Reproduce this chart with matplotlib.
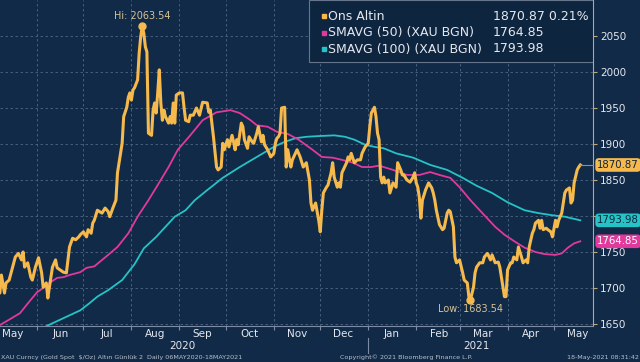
import matplotlib
matplotlib.use('Agg')
import matplotlib.pyplot as plt
import matplotlib.dates as mdates
import matplotlib.transforms as mtrans
from matplotlib.patches import Rectangle
from matplotlib.ticker import NullFormatter
import pandas as pd

BG    = '#112a48'
GRID  = '#4f6584'
GOLD  = '#f6b94c'
PINK  = '#e2399c'
CYAN  = '#25c3c6'
TXT   = '#e4e8ee'
TAN   = '#d8c394'

# gold spot
price_dates = [
    "2020-05-06", "2020-05-08", "2020-05-09", "2020-05-11", "2020-05-12", "2020-05-14", "2020-05-18",
    "2020-05-20", "2020-05-22", "2020-05-23", "2020-05-24", "2020-05-26", "2020-05-28", "2020-05-29",
    "2020-05-31", "2020-06-02", "2020-06-04", "2020-06-05", "2020-06-07", "2020-06-08", "2020-06-09",
    "2020-06-11", "2020-06-13", "2020-06-14", "2020-06-16", "2020-06-18", "2020-06-20", "2020-06-22",
    "2020-06-24", "2020-06-26", "2020-06-28", "2020-06-29", "2020-07-01", "2020-07-03", "2020-07-04",
    "2020-07-06", "2020-07-07", "2020-07-08", "2020-07-10", "2020-07-13", "2020-07-15", "2020-07-17",
    "2020-07-18", "2020-07-20", "2020-07-22", "2020-07-23", "2020-07-25", "2020-07-26", "2020-07-27",
    "2020-07-29", "2020-07-30", "2020-07-31", "2020-08-01", "2020-08-02", "2020-08-03", "2020-08-05",
    "2020-08-06", "2020-08-07", "2020-08-08", "2020-08-09", "2020-08-10", "2020-08-11", "2020-08-12",
    "2020-08-14", "2020-08-15", "2020-08-16", "2020-08-17", "2020-08-18", "2020-08-19", "2020-08-20",
    "2020-08-21", "2020-08-22", "2020-08-23", "2020-08-25", "2020-08-26", "2020-08-27", "2020-08-28",
    "2020-08-29", "2020-08-30", "2020-09-01", "2020-09-03", "2020-09-04", "2020-09-05", "2020-09-07",
    "2020-09-08", "2020-09-10", "2020-09-12", "2020-09-14", "2020-09-16", "2020-09-19", "2020-09-20",
    "2020-09-21", "2020-09-23", "2020-09-25", "2020-09-26", "2020-09-28", "2020-09-29", "2020-09-30",
    "2020-10-02", "2020-10-03", "2020-10-05", "2020-10-06", "2020-10-07", "2020-10-08", "2020-10-09",
    "2020-10-11", "2020-10-12", "2020-10-13", "2020-10-15", "2020-10-16", "2020-10-18", "2020-10-19",
    "2020-10-21", "2020-10-22", "2020-10-24", "2020-10-25", "2020-10-26", "2020-10-28", "2020-10-30",
    "2020-11-01", "2020-11-02", "2020-11-03", "2020-11-04", "2020-11-05", "2020-11-06", "2020-11-08",
    "2020-11-09", "2020-11-10", "2020-11-12", "2020-11-13", "2020-11-16", "2020-11-18", "2020-11-20",
    "2020-11-22", "2020-11-24", "2020-11-25", "2020-11-26", "2020-11-28", "2020-11-30", "2020-12-01",
    "2020-12-02", "2020-12-03", "2020-12-05", "2020-12-06", "2020-12-08", "2020-12-09", "2020-12-10",
    "2020-12-12", "2020-12-13", "2020-12-14", "2020-12-15", "2020-12-18", "2020-12-19", "2020-12-20",
    "2020-12-21", "2020-12-23", "2020-12-25", "2020-12-27", "2020-12-28", "2020-12-30", "2021-01-01",
    "2021-01-02", "2021-01-03", "2021-01-05", "2021-01-06", "2021-01-07", "2021-01-08", "2021-01-09",
    "2021-01-10", "2021-01-11", "2021-01-12", "2021-01-14", "2021-01-15", "2021-01-17", "2021-01-19",
    "2021-01-20", "2021-01-22", "2021-01-23", "2021-01-24", "2021-01-26", "2021-01-28", "2021-01-30",
    "2021-01-31", "2021-02-01", "2021-02-02", "2021-02-03", "2021-02-04", "2021-02-05", "2021-02-07",
    "2021-02-09", "2021-02-11", "2021-02-12", "2021-02-13", "2021-02-14", "2021-02-16", "2021-02-18",
    "2021-02-19", "2021-02-21", "2021-02-22", "2021-02-23", "2021-02-25", "2021-02-26", "2021-02-27",
    "2021-03-01", "2021-03-03", "2021-03-04", "2021-03-06", "2021-03-07", "2021-03-08", "2021-03-10",
    "2021-03-11", "2021-03-12", "2021-03-14", "2021-03-16", "2021-03-17", "2021-03-19", "2021-03-21",
    "2021-03-22", "2021-03-24", "2021-03-26", "2021-03-27", "2021-03-28", "2021-03-30", "2021-03-31",
    "2021-04-01", "2021-04-03", "2021-04-04", "2021-04-05", "2021-04-07", "2021-04-08", "2021-04-10",
    "2021-04-11", "2021-04-13", "2021-04-14", "2021-04-15", "2021-04-17", "2021-04-18", "2021-04-19",
    "2021-04-21", "2021-04-22", "2021-04-23", "2021-04-24", "2021-04-26", "2021-04-27", "2021-04-29",
    "2021-04-30", "2021-05-02", "2021-05-03", "2021-05-04", "2021-05-06", "2021-05-07", "2021-05-08",
    "2021-05-09", "2021-05-11", "2021-05-12", "2021-05-13", "2021-05-14", "2021-05-16", "2021-05-17",
    "2021-05-18",
]
price = [
    1700, 1693, 1718, 1693, 1707, 1711, 1743,
    1748, 1739, 1750, 1729, 1735, 1715, 1711,
    1729, 1742, 1721, 1701, 1707, 1686, 1701,
    1729, 1739, 1728, 1725, 1722, 1721, 1757,
    1769, 1767, 1771, 1774, 1778, 1771, 1781,
    1776, 1790, 1794, 1808, 1804, 1811, 1806,
    1799, 1811, 1822, 1860, 1887, 1901, 1938,
    1951, 1965, 1971, 1961, 1975, 1978, 1989,
    2026, 2049, 2063.54, 2054, 2035, 2028, 1915,
    1912, 1947, 1957, 1943, 1971, 2003, 1957,
    1933, 1947, 1938, 1929, 1938, 1929, 1957,
    1929, 1968, 1971, 1971, 1951, 1933, 1931,
    1940, 1940, 1950, 1940, 1958, 1957, 1944,
    1947, 1910, 1868, 1864, 1868, 1901, 1892,
    1906, 1896, 1912, 1903, 1892, 1906, 1899,
    1929, 1924, 1906, 1894, 1910, 1903, 1901,
    1915, 1924, 1903, 1912, 1899, 1892, 1882,
    1887, 1901, 1908, 1910, 1915, 1950, 1951,
    1868, 1892, 1868, 1878, 1892, 1882, 1868,
    1874, 1850, 1818, 1808, 1818, 1794, 1778,
    1808, 1832, 1840, 1843, 1860, 1874, 1854,
    1840, 1846, 1840, 1860, 1874, 1882, 1878,
    1887, 1874, 1878, 1878, 1887, 1896, 1901,
    1924, 1943, 1951, 1938, 1915, 1906, 1854,
    1846, 1854, 1846, 1850, 1832, 1846, 1840,
    1874, 1864, 1857, 1857, 1850, 1847, 1854,
    1860, 1846, 1840, 1826, 1797, 1822, 1836,
    1846, 1839, 1832, 1822, 1808, 1788, 1781,
    1783, 1804, 1808, 1806, 1785, 1743, 1735,
    1739, 1721, 1711, 1707, 1688, 1683.54, 1701,
    1721, 1729, 1735, 1735, 1743, 1748, 1739,
    1746, 1735, 1736, 1729, 1715, 1688, 1688,
    1725, 1735, 1735, 1743, 1739, 1757, 1743,
    1735, 1739, 1735, 1757, 1776, 1781, 1790,
    1794, 1783, 1794, 1781, 1783, 1781, 1778,
    1771, 1794, 1785, 1794, 1804, 1818, 1832,
    1836, 1839, 1818, 1822, 1846, 1864, 1868,
    1870.87,
]

sma50_dates = [
    "2020-05-06", "2020-05-14", "2020-05-21", "2020-05-27", "2020-06-01", "2020-06-05", "2020-06-09",
    "2020-06-14", "2020-06-18", "2020-06-22", "2020-06-29", "2020-07-03", "2020-07-08", "2020-07-17",
    "2020-07-23", "2020-07-30", "2020-08-05", "2020-08-12", "2020-08-18", "2020-08-25", "2020-08-31",
    "2020-09-08", "2020-09-16", "2020-09-25", "2020-10-04", "2020-10-10", "2020-10-17", "2020-10-21",
    "2020-10-28", "2020-11-03", "2020-11-10", "2020-11-17", "2020-11-26", "2020-12-02", "2020-12-09",
    "2020-12-15", "2020-12-22", "2020-12-28", "2021-01-03", "2021-01-08", "2021-01-17", "2021-01-26",
    "2021-02-03", "2021-02-10", "2021-02-16", "2021-02-23", "2021-03-01", "2021-03-08", "2021-03-14",
    "2021-03-24", "2021-03-30", "2021-04-06", "2021-04-12", "2021-04-19", "2021-04-25", "2021-05-02",
    "2021-05-06", "2021-05-10", "2021-05-14", "2021-05-18",
]
sma50 = [
    1646, 1656, 1665, 1681, 1694, 1700, 1707,
    1714, 1715, 1718, 1722, 1728, 1730, 1746,
    1757, 1776, 1799, 1822, 1843, 1868, 1892,
    1912, 1933, 1944, 1947, 1943, 1933, 1926,
    1924, 1917, 1914, 1906, 1892, 1882, 1881,
    1878, 1874, 1868, 1868, 1870, 1864, 1857,
    1857, 1861, 1857, 1853, 1840, 1822, 1808,
    1785, 1774, 1764, 1756, 1750, 1747, 1746,
    1748, 1756, 1762, 1764.85,
]

sma100_dates = [
    "2020-06-01", "2020-06-09", "2020-06-20", "2020-06-29", "2020-07-05", "2020-07-10", "2020-07-17",
    "2020-07-26", "2020-08-03", "2020-08-09", "2020-08-17", "2020-08-23", "2020-08-29", "2020-09-05",
    "2020-09-11", "2020-09-19", "2020-09-29", "2020-10-10", "2020-10-21", "2020-11-01", "2020-11-08",
    "2020-11-15", "2020-11-22", "2020-11-30", "2020-12-10", "2020-12-17", "2020-12-23", "2020-12-30",
    "2021-01-05", "2021-01-11", "2021-01-19", "2021-01-30", "2021-02-10", "2021-02-21", "2021-03-03",
    "2021-03-12", "2021-03-22", "2021-04-01", "2021-04-12", "2021-04-21", "2021-04-30", "2021-05-08",
    "2021-05-18",
]
sma100 = [
    1640, 1649, 1660, 1669, 1679, 1688, 1697,
    1711, 1733, 1755, 1771, 1785, 1799, 1808,
    1822, 1836, 1853, 1868, 1882, 1896, 1903,
    1908, 1910, 1911, 1912, 1910, 1906, 1899,
    1896, 1894, 1887, 1881, 1871, 1864, 1853,
    1842, 1832, 1819, 1808, 1804, 1801, 1799,
    1793.98,
]

y_ticks = [1650, 1700, 1750, 1800, 1850, 1900, 1950, 2000, 2050]
# 1800 sits behind the SMA100 value tag, so its label is not drawn
y_tick_labels = ["1650", "1700", "1750", "", "1850", "1900", "1950", "2000", "2050"]

legend_names = ["Ons Altin", "SMAVG (50) (XAU BGN)", "SMAVG (100) (XAU BGN)"]
last_change = "0.21%"

px = pd.to_datetime(price_dates)
s50x = pd.to_datetime(sma50_dates)
s100x = pd.to_datetime(sma100_dates)

fig = plt.figure(figsize=(6.4, 3.62), dpi=100)
fig.patch.set_facecolor(BG)
ax = fig.add_axes([0, 36 / 362, 593 / 640, 326 / 362])
ax.set_facecolor(BG)

x_left = pd.Timestamp("2020-06-01") - pd.Timedelta(days=23.9)
x_right = pd.Timestamp("2021-05-01") + pd.Timedelta(days=25.2)

ax.plot(s100x, sma100, color=CYAN, lw=1.3, zorder=3)
ax.plot(s50x, sma50, color=PINK, lw=1.3, zorder=3)
ax.plot(px, price, color=GOLD, lw=2.2, zorder=4, solid_joinstyle='round')

ax.set_xlim(x_left, x_right)
ax.set_ylim(1647.2, 2100)

# month grid at month starts, labels mid-month
ax.xaxis.set_major_locator(mdates.MonthLocator())
ax.xaxis.set_major_formatter(NullFormatter())
ax.xaxis.set_minor_locator(mdates.MonthLocator(bymonthday=16))
ax.xaxis.set_minor_formatter(mdates.DateFormatter('%b'))
ax.tick_params(axis='x', which='major', length=3, color='#7d8ca3', direction='out')
ax.tick_params(axis='x', which='minor', length=0, labelsize=7.5, labelcolor=TXT, pad=2)

ax.yaxis.tick_right()
ax.set_yticks(y_ticks)
ax.set_yticklabels(y_tick_labels)
ax.tick_params(axis='y', length=3, color='#bfa87a', labelcolor=TXT, labelsize=7.5, pad=2)

ax.grid(True, which='major', color=GRID, ls=(0, (3, 3)), lw=0.6, zorder=1)

for side in ['left', 'top']:
    ax.spines[side].set_visible(False)
ax.spines['right'].set_color('#bfa87a')
ax.spines['bottom'].set_color('#7d8ca3')
ax.spines['bottom'].set_linewidth(0.8)

# year labels under the months + divider at the new year
bl = mtrans.blended_transform_factory(ax.transData, ax.transAxes)
ax.text(pd.Timestamp("2020-09-03"), -0.062, "2020", transform=bl, ha='center', va='center',
        fontsize=7.5, color=TXT)
ax.text(pd.Timestamp("2021-03-12"), -0.062, "2021", transform=bl, ha='center', va='center',
        fontsize=7.5, color=TXT)
ax.plot([pd.Timestamp("2021-01-01")] * 2, [-0.037, -0.083], transform=bl, color='#7d8ca3',
        lw=0.8, clip_on=False)

# hi / low markers
hi_i = max(range(len(price)), key=lambda i: price[i])
lo_i = min(range(len(price)), key=lambda i: price[i])
ax.plot(px[hi_i], price[hi_i], 'o', color=GOLD, ms=5, zorder=5)
ax.plot(px[lo_i], price[lo_i], 'o', color=GOLD, ms=5, zorder=5)
ax.annotate(f"Hi: {price[hi_i]:.2f}", (px[hi_i], price[hi_i]), xytext=(0, 4),
            textcoords='offset points', ha='center', va='bottom', fontsize=7, color=TAN, zorder=6)
ax.annotate(f"Low: {price[lo_i]:.2f}", (px[lo_i], price[lo_i]), xytext=(0, -3),
            textcoords='offset points', ha='center', va='top', fontsize=7, color=TAN, zorder=6)

# legend panel
ax.add_patch(Rectangle((309 / 593, 1 - 62 / 326), 1 - 309 / 593, 62 / 326, transform=ax.transAxes,
                       facecolor='#0e2540', edgecolor='#66758c', lw=0.8, zorder=7))
leg_vals = [f"{price[-1]:.2f} {last_change}", f"{sma50[-1]:.2f}", f"{sma100[-1]:.2f}"]
for k, (name, val, col) in enumerate(zip(legend_names, leg_vals, [GOLD, PINK, CYAN])):
    yy = 1 - (16 + 16.5 * k) / 326
    ax.plot([323.5 / 593], [yy], 's', color=col, ms=3.5, transform=ax.transAxes, zorder=8,
            clip_on=False)
    ax.text(328 / 593, yy, name, transform=ax.transAxes, ha='left', va='center', fontsize=9,
            color=TXT, zorder=8)
    ax.text(493 / 593, yy, val, transform=ax.transAxes, ha='left', va='center', fontsize=9,
            color=TXT, zorder=8)

# right-hand value tags
br = mtrans.blended_transform_factory(ax.transAxes, ax.transData)
ax.plot([px[-1], x_right], [price[-1], price[-1]], color='#8a8f99', lw=0.8, clip_on=False, zorder=4)
tags = [(price[-1], GOLD, '#10243c'), (sma100[-1], CYAN, '#10243c'), (sma50[-1], PINK, 'white')]
for val, fc, tc in tags:
    ax.text(1.007, val, f"{val:.2f}", transform=br, ha='left', va='center', fontsize=7.3,
            color=tc, zorder=10, clip_on=False,
            bbox=dict(boxstyle='round,pad=0.18,rounding_size=0.35', fc=fc, ec='none'))

# footer
foot_y = 1 - 357 / 362
fig.text(0.002, foot_y, "XAU Curncy (Gold Spot  $/Oz) Altın Günlük 2  Daily 06MAY2020-18MAY2021",
         fontsize=4.6, color='#b9c1cc', ha='left', va='center')
fig.text(340 / 640, foot_y, "Copyright© 2021 Bloomberg Finance L.P.", fontsize=4.6,
         color='#b9c1cc', ha='left', va='center')
fig.text(0.999, foot_y, "18-May-2021 08:31:42", fontsize=4.6, color='#b9c1cc',
         ha='right', va='center')

fig.savefig("out.png", dpi=100, facecolor=BG)
plt.close(fig)
